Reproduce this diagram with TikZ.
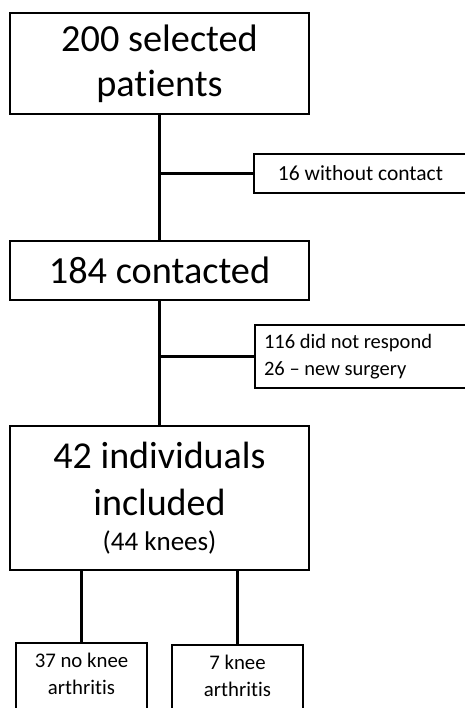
\documentclass[tikz,border=0pt]{standalone}
\usepackage{fontspec}
\setmainfont{Carlito}[Ligatures={TeX,NoCommon}]

\begin{document}
\begin{tikzpicture}[x=1bp, y=-1bp, line width=2.2bp,
    box/.style={draw, rectangle, inner sep=0pt, align=center},
    bigtxt/.style={font=\fontsize{38.3bp}{45bp}\selectfont},
    midtxt/.style={font=\fontsize{38bp}{47bp}\selectfont},
    sidetxt/.style={font=\fontsize{21.5bp}{27bp}\selectfont},
    leaftxt/.style={font=\fontsize{20.8bp}{27bp}\selectfont}]
\useasboundingbox (0,0) rectangle (465,708);
\clip (0,0) rectangle (465,708);

\node [box, bigtxt, minimum width=299bp, minimum height=101bp] (selected) at (159.5,63.5) {200 selected\\patients};
\node [box, bigtxt, minimum width=299bp, minimum height=59bp] (contacted) at (159.5,270.5) {184 contacted};
\node [box, midtxt, minimum width=299bp, minimum height=144bp] (included) at (159.5,498) {42 individuals\\included\\[-12bp]{\fontsize{27bp}{30bp}\selectfont (44 knees)}};

\node [box, sidetxt, minimum width=213bp, minimum height=39bp] (nocontact) at (360.5,173.5) {16 without contact};
\node [box, sidetxt, font=\fontsize{20.5bp}{27bp}\selectfont, align=flush left, anchor=west, inner xsep=9bp, text width=208bp, minimum height=63bp] (excluded) at (254,356.5) {116 did not respond\\26 – new surgery};

\node [box, leaftxt, anchor=north, minimum width=131bp, inner ysep=10bp, text depth=60bp] (noarth) at (81.5,642) {37 no knee\\arthritis};
\node [box, leaftxt, anchor=north, minimum width=131bp, inner ysep=10bp, text depth=60bp] (arth) at (237.5,644) {7 knee\\arthritis};

\draw (selected.south) -- (contacted.north);
\coordinate (branchA) at (selected.south |- nocontact.west);
\draw (branchA) -- (nocontact.west);

\draw (contacted.south) -- (included.north);
\coordinate (branchB) at (contacted.south |- excluded.west);
\draw (branchB) -- (excluded.west);

\draw (noarth.north |- included.south) -- (noarth.north);
\draw (arth.north |- included.south) -- (arth.north);
\end{tikzpicture}
\end{document}
